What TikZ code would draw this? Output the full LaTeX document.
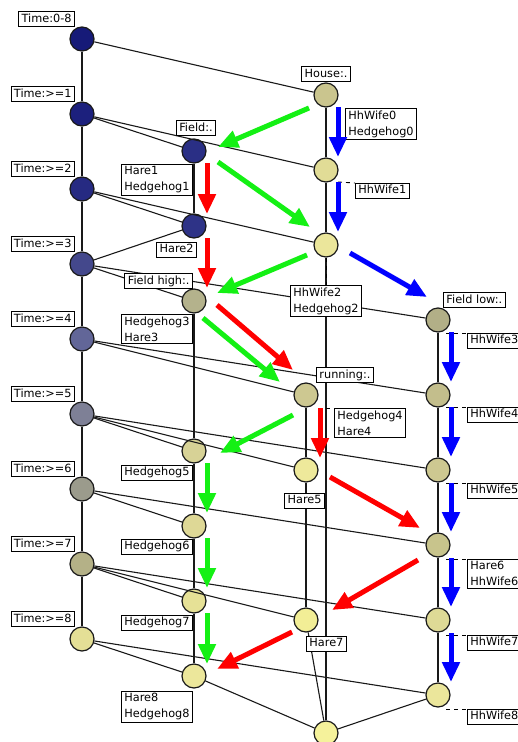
\documentclass[tikz,border=0pt]{standalone}
\usepackage{fontspec}
\setmainfont{DejaVu Sans}
\usetikzlibrary{arrows.meta,calc}
\definecolor{cT0}{RGB}{22,26,120}
\definecolor{cT1}{RGB}{28,32,125}
\definecolor{cT2}{RGB}{38,42,130}
\definecolor{cF1}{RGB}{42,47,133}
\definecolor{cF2}{RGB}{46,51,135}
\definecolor{cT3}{RGB}{68,72,140}
\definecolor{cT4}{RGB}{98,102,152}
\definecolor{cT5}{RGB}{126,128,150}
\definecolor{cT6}{RGB}{155,155,140}
\definecolor{cT7}{RGB}{180,177,135}
\definecolor{cT8}{RGB}{228,223,150}
\definecolor{cH0}{RGB}{202,197,142}
\definecolor{cH1}{RGB}{225,220,150}
\definecolor{cH2}{RGB}{235,230,155}
\definecolor{cFH}{RGB}{180,178,140}
\definecolor{cFL}{RGB}{178,175,135}
\definecolor{cFL4}{RGB}{195,190,140}
\definecolor{cFL5}{RGB}{205,200,145}
\definecolor{cFL6}{RGB}{200,196,140}
\definecolor{cFL7}{RGB}{222,218,150}
\definecolor{cFL8}{RGB}{235,230,155}
\definecolor{cR}{RGB}{205,200,145}
\definecolor{cR5}{RGB}{238,233,155}
\definecolor{cR7}{RGB}{242,238,150}
\definecolor{cG5}{RGB}{215,210,150}
\definecolor{cG6}{RGB}{222,216,150}
\definecolor{cG7}{RGB}{230,225,150}
\definecolor{cG8}{RGB}{236,231,155}
\definecolor{cBot}{RGB}{245,242,155}
\definecolor{arrgreen}{RGB}{20,240,20}
\definecolor{arrred}{RGB}{255,0,0}
\definecolor{arrblue}{RGB}{0,0,255}
\begin{document}
\begin{tikzpicture}[x=1pt,y=-1pt,
  edge/.style={draw=black!90,line width=1.1pt},
  vtx/.style={circle,draw=black!90,line width=1.2pt,minimum size=24pt,inner sep=0pt},
  lbl/.style={draw=black,line width=0.9pt,fill=white,inner xsep=3pt,inner ysep=2pt,font=\fontsize{11.3}{16}\selectfont,text height=8.5pt,text depth=2.5pt},
  lbltwo/.style={draw=black,line width=0.9pt,fill=white,inner xsep=3pt,inner ysep=2pt,font=\fontsize{11.3}{16}\selectfont,align=left},
  leader/.style={draw=black,line width=0.9pt,dash pattern=on 4pt off 4pt},
  arr/.style={line width=5pt,-{Triangle[length=20pt,width=17pt]}},
  garr/.style={arr,draw=arrgreen,fill=arrgreen},
  rarr/.style={arr,draw=arrred,fill=arrred},
  barr/.style={arr,draw=arrblue,fill=arrblue}]
\fill[white] (0,0) rectangle (518,742);
\useasboundingbox (0,0) rectangle (518,742);
% vertices
\node[vtx,fill=cT0] (T0) at (82,39) {};
\node[vtx,fill=cT1] (T1) at (82,114) {};
\node[vtx,fill=cT2] (T2) at (82,189) {};
\node[vtx,fill=cT3] (T3) at (82,264) {};
\node[vtx,fill=cT4] (T4) at (82,339) {};
\node[vtx,fill=cT5] (T5) at (82,414) {};
\node[vtx,fill=cT6] (T6) at (82,489) {};
\node[vtx,fill=cT7] (T7) at (82,564) {};
\node[vtx,fill=cT8] (T8) at (82,639) {};
\node[vtx,fill=cH0] (H0) at (326,95) {};
\node[vtx,fill=cH1] (H1) at (326,170) {};
\node[vtx,fill=cH2] (H2) at (326,245) {};
\node[vtx,fill=cF1] (F1) at (194,151) {};
\node[vtx,fill=cF2] (F2) at (194,226) {};
\node[vtx,fill=cFH] (FH) at (194,301) {};
\node[vtx,fill=cG5] (G5) at (194,451) {};
\node[vtx,fill=cG6] (G6) at (194,526) {};
\node[vtx,fill=cG7] (G7) at (194,601) {};
\node[vtx,fill=cG8] (G8) at (194,676) {};
\node[vtx,fill=cFL] (FL) at (438,320) {};
\node[vtx,fill=cFL4] (FL4) at (438,395) {};
\node[vtx,fill=cFL5] (FL5) at (438,470) {};
\node[vtx,fill=cFL6] (FL6) at (438,545) {};
\node[vtx,fill=cFL7] (FL7) at (438,620) {};
\node[vtx,fill=cFL8] (FL8) at (438,695) {};
\node[vtx,fill=cR] (R) at (306,395) {};
\node[vtx,fill=cR5] (R5) at (306,470) {};
\node[vtx,fill=cR7] (R7) at (306,620) {};
\node[vtx,fill=cBot] (Bot) at (326,733) {};
% edges
\draw[edge] (T0) -- (T1); \draw[edge] (T1) -- (T2); \draw[edge] (T2) -- (T3);
\draw[edge] (T3) -- (T4); \draw[edge] (T4) -- (T5); \draw[edge] (T5) -- (T6);
\draw[edge] (T6) -- (T7); \draw[edge] (T7) -- (T8);
\draw[edge] (T0) -- (H0); \draw[edge] (H0) -- (H1); \draw[edge] (H1) -- (H2); \draw[edge] (H2) -- (Bot);
\draw[edge] (T1) -- (F1); \draw[edge] (T1) -- (H1);
\draw[edge] (F1) -- (F2); \draw[edge] (T2) -- (F2); \draw[edge] (T2) -- (H2);
\draw[edge] (T3) -- (F2); \draw[edge] (T3) -- (FH); \draw[edge] (T3) -- (FL);
\draw[edge] (FH) -- (G5); \draw[edge] (G5) -- (G6); \draw[edge] (G6) -- (G7); \draw[edge] (G7) -- (G8);
\draw[edge] (T4) -- (R); \draw[edge] (T4) -- (FL4);
\draw[edge] (FL) -- (FL4); \draw[edge] (FL4) -- (FL5); \draw[edge] (FL5) -- (FL6);
\draw[edge] (FL6) -- (FL7); \draw[edge] (FL7) -- (FL8);
\draw[edge] (T5) -- (G5); \draw[edge] (T5) -- (R5); \draw[edge] (T5) -- (FL5);
\draw[edge] (R) -- (R5); \draw[edge] (R5) -- (R7); \draw[edge] (R7) -- (Bot);
\draw[edge] (T6) -- (G6); \draw[edge] (T6) -- (FL6);
\draw[edge] (T7) -- (G7); \draw[edge] (T7) -- (R7); \draw[edge] (T7) -- (FL7);
\draw[edge] (T8) -- (G8); \draw[edge] (T8) -- (FL8);
\draw[edge] (G8) -- (Bot); \draw[edge] (FL8) -- (Bot);
% attribute labels
\node[lbl,anchor=south east] (lT0) at ($(T0)+(-7,-12)$) {Time:0-8};
\node[lbl,anchor=south east] (lT1) at ($(T1)+(-7,-12)$) {Time:>=1};
\node[lbl,anchor=south east] (lT2) at ($(T2)+(-7,-12)$) {Time:>=2};
\node[lbl,anchor=south east] (lT3) at ($(T3)+(-7,-12)$) {Time:>=3};
\node[lbl,anchor=south east] (lT4) at ($(T4)+(-7,-12)$) {Time:>=4};
\node[lbl,anchor=south east] (lT5) at ($(T5)+(-7,-12)$) {Time:>=5};
\node[lbl,anchor=south east] (lT6) at ($(T6)+(-7,-12)$) {Time:>=6};
\node[lbl,anchor=south east] (lT7) at ($(T7)+(-7,-12)$) {Time:>=7};
\node[lbl,anchor=south east] (lT8) at ($(T8)+(-7,-12)$) {Time:>=8};
\node[lbl,anchor=south] (lH0) at ($(H0)+(0,-13)$) {House:.};
\node[lbl,anchor=south] (lF1) at ($(F1)+(2,-15)$) {Field:.};
\node[lbl,anchor=south east] (lFH) at ($(FH)+(-1,-12)$) {Field high:.};
\node[lbl,anchor=south west] (lFL) at ($(FL)+(5,-12)$) {Field low:.};
\node[lbl,anchor=south west] (lR) at ($(R)+(10,-12)$) {running:.};
% object labels
\node[lbltwo,anchor=north west] (oH0) at ($(H0)+(19,13)$) {HhWife0\\Hedgehog0};
\node[lbl,anchor=north west] (oH1) at ($(H1)+(29,13)$) {HhWife1};
\node[lbltwo,anchor=north east] (oF1) at ($(F1)+(-1,13)$) {Hare1\\Hedgehog1};
\node[lbl,anchor=north east] (oF2) at ($(F2)+(3,16)$) {Hare2};
\node[lbltwo,anchor=north west] (oH2) at ($(H2)+(-36,40)$) {HhWife2\\Hedgehog2};
\node[lbltwo,anchor=north east] (oFH) at ($(FH)+(-1,13)$) {Hedgehog3\\Hare3};
\node[lbl,anchor=north west] (oFL) at ($(FL)+(29,13)$) {HhWife3};
\node[lbltwo,anchor=north west] (oR) at ($(R)+(28,13)$) {Hedgehog4\\Hare4};
\node[lbl,anchor=north west] (oFL4) at ($(FL4)+(29,12)$) {HhWife4};
\node[lbl,anchor=north east] (oG5) at ($(G5)+(-1,14)$) {Hedgehog5};
\node[lbl,anchor=north east] (oR5) at ($(R5)+(19,23)$) {Hare5};
\node[lbl,anchor=north west] (oFL5) at ($(FL5)+(29,13)$) {HhWife5};
\node[lbl,anchor=north east] (oG6) at ($(G6)+(-1,13)$) {Hedgehog6};
\node[lbltwo,anchor=north west] (oFL6) at ($(FL6)+(29,14)$) {Hare6\\HhWife6};
\node[lbl,anchor=north east] (oG7) at ($(G7)+(-1,14)$) {Hedgehog7};
\node[lbl,anchor=north west] (oR7) at ($(R7)+(0,16)$) {Hare7};
\node[lbl,anchor=north west] (oFL7) at ($(FL7)+(29,15)$) {HhWife7};
\node[lbltwo,anchor=north east] (oG8) at ($(G8)+(-1,15)$) {Hare8\\Hedgehog8};
\node[lbl,anchor=north west] (oFL8) at ($(FL8)+(29,14)$) {HhWife8};
% leaders
\draw[leader] ($(H1)+(12,12)$) -- (oH1.north west);
\draw[leader] (H2.south) -- (H2 |- oH2.north);
\draw[leader] ($(R)+(12,13)$) -- (oR.north west);
\draw[leader] ($(FL)+(8,13)$) -- (oFL.north west);
\draw[leader] ($(FL4)+(8,12)$) -- (oFL4.north west);
\draw[leader] ($(FL5)+(8,13)$) -- (oFL5.north west);
\draw[leader] ($(FL6)+(8,14)$) -- (oFL6.north west);
\draw[leader] ($(FL7)+(8,15)$) -- (oFL7.north west);
\draw[leader] ($(FL8)+(8,14)$) -- (oFL8.north west);
% green arrows (Hedgehog)
\draw[garr] ($(H0)+(-17,13)$) -- ($(F1)+(24,-4)$);
\draw[garr] ($(F1)+(24,11)$) -- ($(H2)+(-16,-18)$);
\draw[garr] ($(H2)+(-19,10)$) -- ($(FH)+(23,-8)$);
\draw[garr] ($(FH)+(9,17)$) -- ($(R)+(-26,-13)$);
\draw[garr] ($(R)+(-13,20)$) -- ($(G5)+(26,2)$);
\draw[garr] ($(G5)+(13,12)$) -- ($(G6)+(13,-13)$);
\draw[garr] ($(G6)+(13,12)$) -- ($(G7)+(13,-13)$);
\draw[garr] ($(G7)+(13,12)$) -- ($(G8)+(13,-12)$);
% red arrows (Hare)
\draw[rarr] ($(F1)+(13,12)$) -- ($(F2)+(13,-12)$);
\draw[rarr] ($(F2)+(13,12)$) -- ($(FH)+(13,-13)$);
\draw[rarr] ($(FH)+(23,4)$) -- ($(R)+(-13,-25)$);
\draw[rarr] ($(R)+(14,13)$) -- ($(R5)+(14,-12)$);
\draw[rarr] ($(R5)+(24,7)$) -- ($(FL6)+(-18,-17)$);
\draw[rarr] ($(FL6)+(-20,15)$) -- ($(R7)+(26,-10)$);
\draw[rarr] ($(R7)+(-14,12)$) -- ($(G8)+(23,-7)$);
% blue arrows (HhWife)
\draw[barr] ($(H0)+(12,12)$) -- ($(H1)+(12,-13)$);
\draw[barr] ($(H1)+(12,12)$) -- ($(H2)+(12,-13)$);
\draw[barr] ($(H2)+(24,8)$) -- ($(FL)+(-11,-23)$);
\draw[barr] ($(FL)+(13,12)$) -- ($(FL4)+(13,-13)$);
\draw[barr] ($(FL4)+(13,12)$) -- ($(FL5)+(13,-13)$);
\draw[barr] ($(FL5)+(13,13)$) -- ($(FL6)+(13,-13)$);
\draw[barr] ($(FL6)+(13,13)$) -- ($(FL7)+(13,-13)$);
\draw[barr] ($(FL7)+(13,13)$) -- ($(FL8)+(13,-13)$);
\end{tikzpicture}
\end{document}
